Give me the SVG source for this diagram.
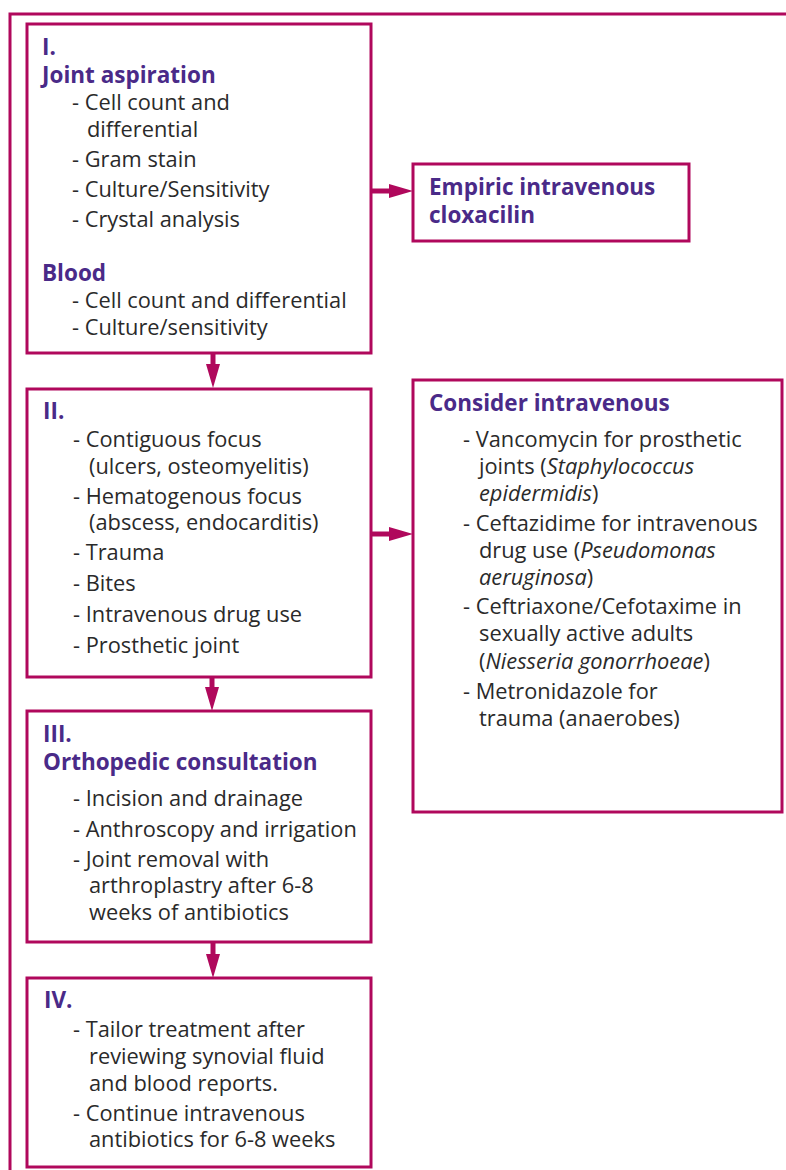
<svg xmlns="http://www.w3.org/2000/svg" width="786" height="1170" viewBox="0 0 786 1170">
<defs>
<style>
.box{fill:#fff;stroke:#b0085c;stroke-width:3}
.frame{fill:none;stroke:#b0085c;stroke-width:3}
.conn{stroke:#b0085c;stroke-width:5;fill:none}
.h{font-family:"Open Sans","Liberation Sans",sans-serif;font-size:22.5px;font-weight:700;fill:#4a2a88}
.t{font-family:"Open Sans","Liberation Sans",sans-serif;font-size:21.8px;fill:#2a2a2a}
.i{font-style:italic}
</style>
<marker id="ah" markerUnits="userSpaceOnUse" markerWidth="24" markerHeight="14" refX="12" refY="7" orient="auto">
<path d="M0,0 L24,7 L0,14 z" fill="#b0085c"/>
</marker>
</defs>
<rect width="786" height="1170" fill="#fff"/>
<path class="frame" d="M10,1170 V14 H786"/>

<g id="connectors">
<line class="conn" x1="213" y1="353" x2="213" y2="376" marker-end="url(#ah)"/>
<line class="conn" x1="371" y1="191" x2="401" y2="191" marker-end="url(#ah)"/>
<line class="conn" x1="371" y1="534" x2="401" y2="534" marker-end="url(#ah)"/>
<line class="conn" x1="212" y1="677" x2="212" y2="699" marker-end="url(#ah)"/>
<line class="conn" x1="213" y1="942" x2="213" y2="966" marker-end="url(#ah)"/>
</g>

<g id="node1">
<rect class="box" x="27" y="24" width="344" height="329"/>
<text class="h" x="42" y="55">I.</text>
<text class="h" x="42" y="83">Joint aspiration</text>
<text class="t" x="72" y="110">- Cell count and</text>
<text class="t" x="87" y="137">differential</text>
<text class="t" x="72" y="167">- Gram stain</text>
<text class="t" x="72" y="197">- Culture/Sensitivity</text>
<text class="t" x="72" y="227">- Crystal analysis</text>
<text class="h" x="42" y="281">Blood</text>
<text class="t" x="72" y="308">- Cell count and differential</text>
<text class="t" x="72" y="335">- Culture/sensitivity</text>
</g>

<g id="node2">
<rect class="box" x="413" y="164" width="276" height="77"/>
<text class="h" x="429" y="195">Empiric intravenous</text>
<text class="h" x="429" y="223">cloxacilin</text>
</g>

<g id="node3">
<rect class="box" x="27" y="389" width="344" height="288"/>
<text class="h" x="43" y="419">II.</text>
<text class="t" x="73" y="447">- Contiguous focus</text>
<text class="t" x="89" y="474">(ulcers, osteomyelitis)</text>
<text class="t" x="73" y="504">- Hematogenous focus</text>
<text class="t" x="89" y="530">(abscess, endocarditis)</text>
<text class="t" x="73" y="560">- Trauma</text>
<text class="t" x="73" y="591">- Bites</text>
<text class="t" x="73" y="622">- Intravenous drug use</text>
<text class="t" x="73" y="653">- Prosthetic joint</text>
</g>

<g id="node4">
<rect class="box" x="413" y="380" width="369" height="432"/>
<text class="h" x="429" y="411">Consider intravenous</text>
<text class="t" x="463" y="447">- Vancomycin for prosthetic</text>
<text class="t" x="479" y="474">joints (<tspan class="i">Staphylococcus</tspan></text>
<text class="t" x="479" y="501"><tspan class="i">epidermidis</tspan>)</text>
<text class="t" x="463" y="531">- Ceftazidime for intravenous</text>
<text class="t" x="479" y="558">drug use (<tspan class="i">Pseudomonas</tspan></text>
<text class="t" x="479" y="585"><tspan class="i">aeruginosa</tspan>)</text>
<text class="t" x="463" y="614">- Ceftriaxone/Cefotaxime in</text>
<text class="t" x="479" y="641">sexually active adults</text>
<text class="t" x="479" y="669">(<tspan class="i">Niesseria gonorrhoeae</tspan>)</text>
<text class="t" x="463" y="699">- Metronidazole for</text>
<text class="t" x="479" y="726">trauma (anaerobes)</text>
</g>

<g id="node5">
<rect class="box" x="27" y="711" width="344" height="231"/>
<text class="h" x="43" y="742">III.</text>
<text class="h" x="43" y="770">Orthopedic consultation</text>
<text class="t" x="73" y="806">- Incision and drainage</text>
<text class="t" x="73" y="837">- Anthroscopy and irrigation</text>
<text class="t" x="73" y="867">- Joint removal with</text>
<text class="t" x="89" y="893">arthroplastry after 6-8</text>
<text class="t" x="89" y="920">weeks of antibiotics</text>
</g>

<g id="node6">
<rect class="box" x="27" y="978" width="344" height="189"/>
<text class="h" x="44" y="1008">IV.</text>
<text class="t" x="73" y="1037">- Tailor treatment after</text>
<text class="t" x="89" y="1064">reviewing synovial fluid</text>
<text class="t" x="89" y="1091">and blood reports.</text>
<text class="t" x="73" y="1121">- Continue intravenous</text>
<text class="t" x="89" y="1147">antibiotics for 6-8 weeks</text>
</g>
</svg>
